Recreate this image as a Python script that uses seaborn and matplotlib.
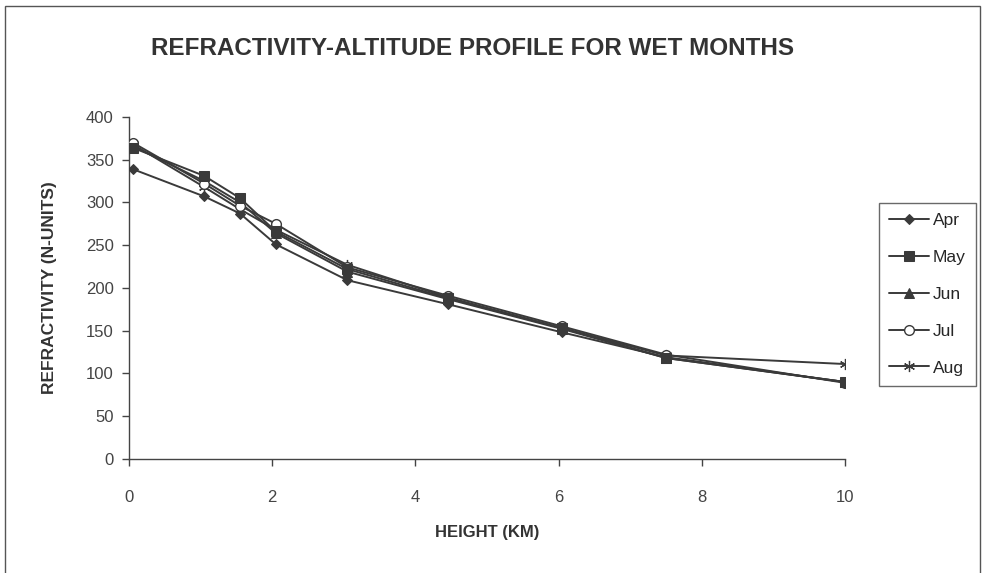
import matplotlib
matplotlib.use("Agg")
import matplotlib.pyplot as plt
import seaborn as sns
import pandas as pd
from matplotlib.patches import Rectangle

heights = [0.05, 1.05, 1.55, 2.05, 3.05, 4.45, 6.05, 7.5, 10.0]
apr = [339, 307, 287, 251, 209, 181, 148, 119, 90]
may = [364, 331, 305, 266, 222, 188, 153, 118, 90]
jun = [366, 325, 300, 264, 219, 187, 152, 118, 90]
jul = [370, 322, 296, 275, 224, 191, 155, 122, 89]
aug = [368, 318, 292, 268, 227, 189, 153, 121, 111]
months = ["Apr", "May", "Jun", "Jul", "Aug"]
series = [apr, may, jun, jul, aug]

sns.set_style("white")
plt.rcParams["font.family"] = ["Liberation Sans", "DejaVu Sans"]

fig = plt.figure(figsize=(9.85, 5.73), dpi=100)
ax = fig.add_axes([0.131, 0.199, 0.727, 0.597])

col = "#3a3a3a"
styles = {
    "Apr": dict(marker="D", markersize=5, markerfacecolor=col, markeredgecolor=col, zorder=3),
    "May": dict(marker="s", markersize=7, markerfacecolor=col, markeredgecolor=col, zorder=6),
    "Jun": dict(marker="^", markersize=7, markerfacecolor=col, markeredgecolor=col, zorder=4),
    "Jul": dict(marker="o", markersize=7, markerfacecolor="white", markeredgecolor=col, markeredgewidth=1.0, zorder=5),
    "Aug": dict(marker=(6, 2, 0), markersize=8, markerfacecolor=col, markeredgecolor=col, markeredgewidth=0.9, zorder=4),
}

for m, vals in zip(months, series):
    df = pd.DataFrame({"h": heights, "n": vals})
    sns.lineplot(data=df, x="h", y="n", ax=ax, color=col, linewidth=1.4, label=m, **styles[m])

ax.set_xlim(0, 10)
ax.set_ylim(0, 400)
ax.set_xticks([0, 2, 4, 6, 8, 10])
ax.set_yticks(range(0, 401, 50))
for s in ["top", "right"]:
    ax.spines[s].set_visible(False)
for s in ["left", "bottom"]:
    ax.spines[s].set_color("#444444")
    ax.spines[s].set_linewidth(1.0)
ax.tick_params(axis="both", direction="out", length=5, width=1, color="#444444",
               labelsize=12, labelcolor="#444444", bottom=True, left=True)
ax.tick_params(axis="x", pad=17)
ax.tick_params(axis="y", pad=6)
ax.set_xlabel("HEIGHT (KM)", fontsize=12, fontweight="bold", color="#333333", labelpad=15)
ax.set_ylabel("REFRACTIVITY (N-UNITS)", fontsize=12.5, fontweight="bold", color="#333333", labelpad=21)

fig.text(0.48, 0.915, "REFRACTIVITY-ALTITUDE PROFILE FOR WET MONTHS", ha="center", va="center",
         fontsize=17.5, color="#333333", fontweight="semibold")

leg = ax.legend(loc="upper left", bbox_to_anchor=(1.035, 0.775), frameon=True, fontsize=12.5,
                handlelength=2.3, handletextpad=0.2, labelspacing=1.25, borderpad=0.6,
                fancybox=False, edgecolor="#444444")
leg.get_frame().set_linewidth(1.0)

fig.patches.append(Rectangle((0.005, -0.01), 0.99, 1.0, transform=fig.transFigure,
                             fill=False, edgecolor="#555555", linewidth=1.0))

fig.savefig("out.png", dpi=100)
